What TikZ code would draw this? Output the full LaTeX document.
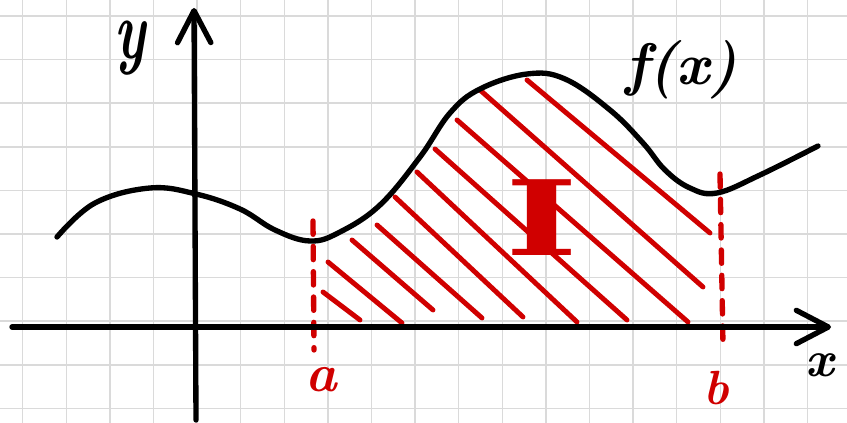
\documentclass[tikz,border=0pt]{standalone}
\usepackage{fontspec}
\newfontfamily\slabfont{DejaVu Serif}
\usetikzlibrary{arrows.meta}
\definecolor{inkred}{RGB}{208,0,0}
\definecolor{gridgray}{RGB}{218,218,218}
\tikzset{>={Straight Barb[length=24pt,width=25pt,round]},gridline/.style={gridgray,line width=1.1pt},axis/.style={line width=4pt,->,line cap=round,line join=round},curve/.style={line width=4pt,line cap=round},hatch/.style={inkred,line width=3.7pt,line cap=round},bound/.style={inkred,line width=4pt,line cap=round,dash pattern=on 10pt off 9pt},lbl/.style={inner sep=0pt,font=\bfseries\itshape}}

\begin{document}
\begin{tikzpicture}[x=.75pt,y=-.75pt]
\fill[white] (0,0) rectangle (847,423);\useasboundingbox (0,0) rectangle (847,423);
% squared paper
\foreach \i in {0,...,18}{\draw[gridline] ({22.7+43.6*\i},0)--({22.7+43.6*\i},423);}
\foreach \j in {0,...,9}{\draw[gridline] (0,{16+43.6*\j})--(847,{16+43.6*\j});}
% hatching of the area
\foreach \xa/\ya/\xb/\yb in {323/292/360/320,328/262/402/323,352/240/433/310,377/225/482/318,395/197/523/317,417/172/577/322,435/149/627/320,457/120/688/322,480/90/703/287,527/80/710/233}{\draw[hatch] (\xa,\ya)--(\xb,\yb);}
% bounds
\coordinate (atop) at (313,221);\coordinate (abot) at (314,350);\draw[bound] (atop)--(abot);
\coordinate (btop) at (720,174);\coordinate (bbot) at (723,345);\draw[bound] (btop)--(bbot);
% axes
\coordinate (xstart) at (12,327);\coordinate (xend) at (831,327);\draw[axis] (xstart)--(xend);
\coordinate (ystart) at (196,420);\coordinate (yend) at (194,8);\draw[axis] (ystart)--(yend);
% the function
\draw[curve] plot[smooth,tension=.65] coordinates {(57,237) (95,203) (150,188) (196,194) (240,209) (275,230) (310,241) (340,232) (380,205) (420,157) (450,113) (480,89) (527,74) (565,79) (610,110) (643,143) (665,170) (690,188) (717,193) (760,175) (818,146)};
% labels
\node[lbl] (ylabel) at (130,48){\scalebox{.8}[1.2]{\fontsize{52}{52}\selectfont y}};
\node[lbl] (flabel) at (681,70){\fontsize{44}{44}\selectfont f(x)};
\node[lbl] (xlabel) at (820,365){\fontsize{38}{38}\selectfont x};
\node[lbl,inkred] (alabel) at (321,380){\fontsize{40}{40}\selectfont a};
\node[lbl,inkred] (blabel) at (716,388){\fontsize{36}{36}\selectfont b};
\node[lbl,inkred,font=\slabfont\bfseries] (ilabel) at (542,218){\scalebox{1.5}[1]{\fontsize{78}{78}\selectfont I}};
\end{tikzpicture}
\end{document}
